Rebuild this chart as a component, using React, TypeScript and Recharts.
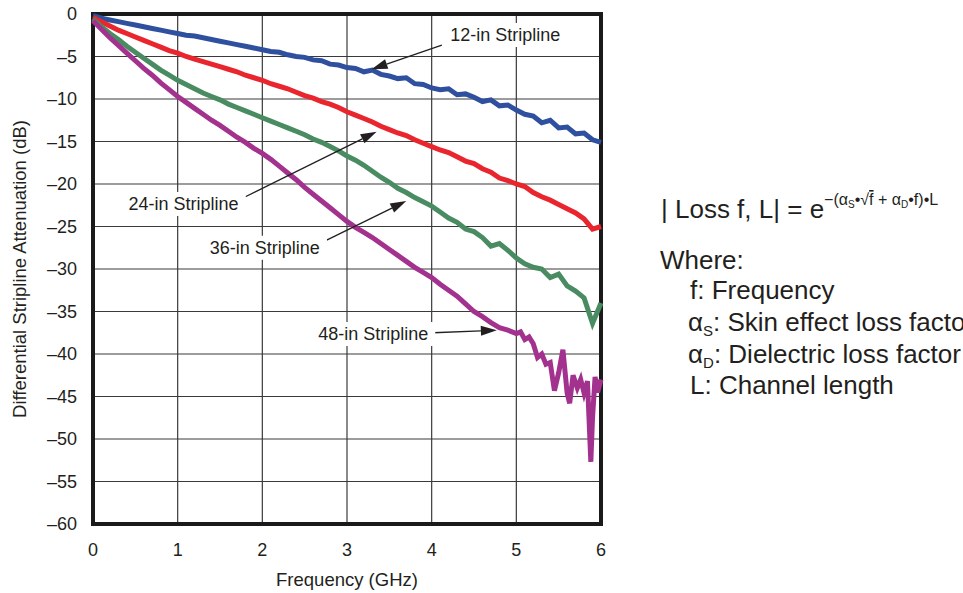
import { LineChart, Line, XAxis, YAxis, CartesianGrid, ReferenceLine, ReferenceDot, ReferenceArea } from 'recharts';

// frequency grid (GHz) shared by the 12/24/36-in traces
const freq = [
  0, 0.1, 0.2, 0.3, 0.4, 0.5, 0.6, 0.7, 0.8, 0.9,
  1, 1.1, 1.2, 1.3, 1.4, 1.5, 1.6, 1.7, 1.8, 1.9,
  2, 2.1, 2.2, 2.3, 2.4, 2.5, 2.6, 2.7, 2.8, 2.9,
  3, 3.1, 3.2, 3.3, 3.4, 3.5, 3.6, 3.7, 3.8, 3.9,
  4, 4.1, 4.2, 4.3, 4.4, 4.5, 4.6, 4.7, 4.8, 4.9,
  5, 5.1, 5.2, 5.3, 5.4, 5.5, 5.6, 5.7, 5.8, 5.9, 6,
];

const loss12 = [
  -0.2, -0.5, -0.7, -0.9, -1.1, -1.3, -1.5, -1.7, -1.9, -2.1,
  -2.3, -2.5, -2.6, -2.8, -3.0, -3.2, -3.4, -3.6, -3.8, -4.0,
  -4.2, -4.4, -4.5, -4.8, -5.0, -5.1, -5.4, -5.5, -5.9, -6.0,
  -6.3, -6.4, -6.8, -6.6, -7.1, -7.3, -7.6, -7.5, -8.2, -8.3,
  -8.7, -8.9, -8.8, -9.5, -9.4, -9.8, -10.3, -10.1, -10.8, -10.7,
  -11.3, -11.8, -12.0, -12.8, -12.5, -13.4, -13.3, -14.1, -14.0, -14.8, -15.1,
];

const loss24 = [
  -0.4, -0.9, -1.4, -1.9, -2.3, -2.7, -3.1, -3.5, -3.9, -4.3,
  -4.6, -5.0, -5.3, -5.6, -5.9, -6.2, -6.5, -6.8, -7.2, -7.5,
  -7.8, -8.2, -8.5, -8.8, -9.2, -9.6, -9.9, -10.3, -10.6, -11.0,
  -11.5, -11.9, -12.3, -12.7, -13.2, -13.6, -14.0, -14.3, -14.8, -15.2,
  -15.6, -16.0, -16.3, -16.8, -17.3, -17.6, -18.2, -18.6, -19.3, -19.6,
  -20.0, -20.3, -21.0, -21.5, -21.9, -22.4, -22.9, -23.4, -24.1, -25.3, -25.0,
];

const loss36 = [
  -0.6, -1.5, -2.3, -3.0, -3.8, -4.5, -5.2, -5.9, -6.6, -7.2,
  -7.8, -8.3, -8.8, -9.3, -9.7, -10.1, -10.6, -11.0, -11.4, -11.8,
  -12.2, -12.6, -13.0, -13.4, -13.8, -14.2, -14.7, -15.1, -15.6, -16.1,
  -16.7, -17.2, -17.8, -18.5, -19.2, -19.8, -20.5, -21.0, -21.6, -22.1,
  -22.6, -23.3, -24.0, -24.5, -25.3, -25.6, -26.3, -27.3, -27.0, -27.8,
  -28.7, -29.4, -29.8, -30.0, -31.0, -30.6, -32.0, -32.6, -33.4, -36.4, -34.0,
];

// the 48-in trace gets a finer tail where it turns noisy
const freq48 = [
  0, 0.1, 0.2, 0.3, 0.4, 0.5, 0.6, 0.7, 0.8, 0.9,
  1, 1.1, 1.2, 1.3, 1.4, 1.5, 1.6, 1.7, 1.8, 1.9,
  2, 2.1, 2.2, 2.3, 2.4, 2.5, 2.6, 2.7, 2.8, 2.9,
  3, 3.1, 3.2, 3.3, 3.4, 3.5, 3.6, 3.7, 3.8, 3.9,
  4, 4.1, 4.2, 4.3, 4.4, 4.5, 4.6, 4.7, 4.8, 4.9,
  5, 5.05, 5.1, 5.15, 5.2, 5.25, 5.3, 5.35, 5.4, 5.45, 5.5, 5.55, 5.6, 5.63,
  5.67, 5.72, 5.76, 5.8, 5.84, 5.88, 5.9, 5.93, 5.96, 6,
];

const loss48 = [
  -0.8, -1.8, -2.8, -3.7, -4.6, -5.5, -6.4, -7.2, -8.1, -8.9,
  -9.7, -10.4, -11.1, -11.8, -12.5, -13.1, -13.8, -14.5, -15.1, -15.8,
  -16.4, -17.1, -17.9, -18.7, -19.5, -20.4, -21.2, -22.0, -22.8, -23.6,
  -24.4, -25.1, -25.7, -26.3, -27.0, -27.7, -28.4, -29.1, -29.8, -30.4,
  -31.0, -31.8, -32.5, -33.2, -34.1, -35.0, -35.6, -36.3, -36.9, -37.2,
  -37.6, -37.4, -38.3, -38.0, -38.8, -40.4, -40.0, -41.2, -41.0, -44.3, -42.2, -39.5, -44.6, -45.8,
  -42.5, -44.0, -43.0, -44.6, -43.2, -52.7, -47.5, -42.7, -44.5, -43.0,
];

const xTicks = [0, 1, 2, 3, 4, 5, 6];
const yTicks = [0, -5, -10, -15, -20, -25, -30, -35, -40, -45, -50, -55, -60];

// callouts: text centre and arrow from/to, in GHz / dB
const callouts = [
  { text: '12-in Stripline', tx: 4.87, ty: -2.47, fx: 4.12, fy: -3.65, ax: 3.29, ay: -6.5 },
  { text: '24-in Stripline', tx: 1.07, ty: -22.35, fx: 1.8, fy: -21.5, ax: 3.35, ay: -13.85 },
  { text: '36-in Stripline', tx: 2.03, ty: -27.5, fx: 2.76, fy: -26.6, ax: 3.7, ay: -22.0 },
  { text: '48-in Stripline', tx: 3.31, ty: -37.65, fx: 4.02, fy: -37.5, ax: 4.77, ay: -37.2 },
];

const mainData = freq.map((f, i) => ({ f, l12: loss12[i], l24: loss24[i], l36: loss36[i] }));
const data48 = freq48.map((f, i) => ({ f, l48: loss48[i] }));

const ink = '#231f20';
const font = '"Liberation Sans", Arial, Helvetica, sans-serif';

function Arrow(p: any) {
  const { x1, y1, x2, y2 } = p;
  const dx = x2 - x1, dy = y2 - y1;
  const len = Math.hypot(dx, dy) || 1;
  const ux = dx / len, uy = dy / len;
  const L = 16, W = 5;
  const bx = x2 - ux * L, by = y2 - uy * L;
  return (
    <g>
      <line x1={x1} y1={y1} x2={bx} y2={by} stroke={ink} strokeWidth={1.3} />
      <polygon points={`${x2},${y2} ${bx - uy * W},${by + ux * W} ${bx + uy * W},${by - ux * W}`} fill={ink} />
    </g>
  );
}

const calloutText = (text: string) => (p: any) => (
  <g>
    <rect x={p.cx - 62} y={p.cy - 12} width={124} height={24} fill="#fff" />
    <text x={p.cx} y={p.cy} textAnchor="middle" dominantBaseline="central" fontSize={18} fill={ink} fontFamily={font}>{text}</text>
  </g>
);

const fmt = (v: number) => (v < 0 ? `\u2013${-v}` : `${v}`);

export default function App() {
  return (
    <div style={{ position: 'absolute', left: 0, top: 0, width: 963, height: 593, overflow: 'hidden', background: '#fff', fontFamily: font }}>
      <LineChart width={640} height={593} data={mainData} margin={{ top: 14, right: 39, left: 0, bottom: 0 }}>
        <CartesianGrid stroke="#3a3a3a" strokeWidth={1.2} />
        <XAxis type="number" dataKey="f" domain={[0, 6]} ticks={xTicks} height={69} tickLine={false} axisLine={false}
          tickSize={0} tickMargin={19} tick={{ fill: ink, fontSize: 18 }}
          label={{ value: 'Frequency (GHz)', position: 'insideBottom', offset: 7, fill: ink, fontSize: 18.5 }} />
        <YAxis type="number" domain={[-60, 0]} ticks={yTicks} width={93} tickLine={false} axisLine={false}
          tickSize={0} tickMargin={16} tick={{ fill: ink, fontSize: 18 }} tickFormatter={fmt}
          label={{ value: 'Differential Stripline Attenuation (dB)', angle: -90, position: 'insideLeft', offset: 19, fill: ink, fontSize: 18.5, style: { textAnchor: 'middle' } }} />
        <Line dataKey="l12" stroke="#2f4f9f" strokeWidth={5} dot={false} isAnimationActive={false} />
        <Line dataKey="l24" stroke="#e9262e" strokeWidth={5} dot={false} isAnimationActive={false} />
        <Line dataKey="l36" stroke="#4a8c62" strokeWidth={5} dot={false} isAnimationActive={false} />
        <Line data={data48} dataKey="l48" stroke="#a3328e" strokeWidth={5} dot={false} isAnimationActive={false} />
        <ReferenceArea x1={0} x2={6} y1={-60} y2={0} fill="none" stroke="#1a1a1a" strokeWidth={4} ifOverflow="visible" />
        {callouts.map((c) => (
          <ReferenceLine key={c.text + 'a'} segment={[{ x: c.fx, y: c.fy }, { x: c.ax, y: c.ay }]} shape={Arrow} />
        ))}
        {callouts.map((c) => (
          <ReferenceDot key={c.text} x={c.tx} y={c.ty} r={0} shape={calloutText(c.text)} />
        ))}
      </LineChart>
      <svg width={963} height={593} style={{ position: 'absolute', left: 0, top: 0, pointerEvents: 'none' }}>
        <g fill={ink} fontFamily={font}>
          <text x={661} y={218} fontSize={26}>
            | Loss f, L| = e
            <tspan dy={-13} fontSize={16}>{'\u2212(\u03b1'}</tspan>
            <tspan dy={3} fontSize={10}>S</tspan>
            <tspan dy={-3} fontSize={16}>{'\u2022\u221a'}</tspan>
            <tspan fontSize={16} textDecoration="overline">f</tspan>
            <tspan fontSize={16}>{' + \u03b1'}</tspan>
            <tspan dy={3} fontSize={10}>D</tspan>
            <tspan dy={-3} fontSize={16}>{'\u2022f)\u2022L'}</tspan>
          </text>
          <text x={660} y={269} fontSize={26}>Where:</text>
          <text x={690} y={299} fontSize={26}>f: Frequency</text>
          <text x={688} y={331} fontSize={26}>
            {'\u03b1'}<tspan dy={5} fontSize={15}>S</tspan><tspan dy={-5}>: Skin effect loss factor</tspan>
          </text>
          <text x={688} y={363} fontSize={26}>
            {'\u03b1'}<tspan dy={5} fontSize={15}>D</tspan><tspan dy={-5}>: Dielectric loss factor</tspan>
          </text>
          <text x={690} y={394} fontSize={26}>L: Channel length</text>
        </g>
      </svg>
    </div>
  );
}
